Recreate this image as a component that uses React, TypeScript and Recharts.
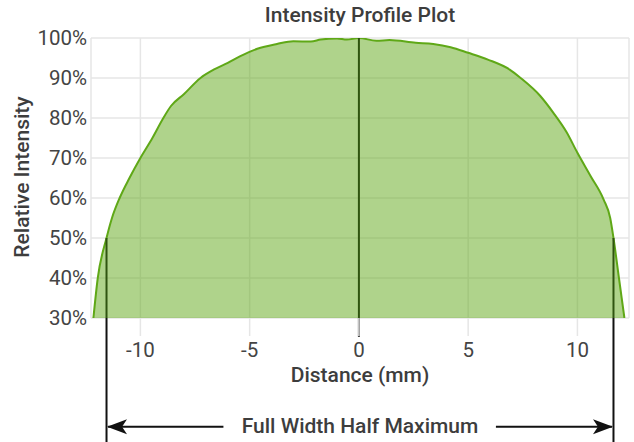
import { AreaChart, Area, XAxis, YAxis, CartesianGrid, ReferenceLine } from "recharts"

// ─── Data ─────────────────────────────────────────────────────────────────────

const distance = [
  -12.15, -11.95, -11.55, -11.3, -10.95, -10.5, -10.0, -9.45, -8.95, -8.6, -8.0, -7.25,
  -6.6, -6.0, -5.3, -4.65, -3.75, -3.0, -2.2, -1.75, -1.0, -0.55, 0, 0.8, 1.4, 2.6,
  3.4, 4.2, 5.0, 5.9, 6.9, 7.4, 8.3, 8.9, 9.5, 10.0, 10.6, 11.2, 11.5, 11.65, 11.9, 12.15,
]
const intensity = [
  30, 40, 50, 55, 60, 65, 70, 75, 80, 83, 86, 90,
  92.2, 93.8, 95.8, 97.3, 98.5, 99.2, 99.1, 99.6, 99.9, 99.6, 100, 99.3, 99.5, 98.8,
  98.5, 97.7, 96.3, 94.6, 92.1, 90, 85.5, 81.3, 76.5, 71.3, 65.5, 59.6, 55, 50, 40, 30,
]
const xTicks = [-10, -5, 0, 5, 10]
const yTicks = [30, 40, 50, 60, 70, 80, 90, 100]

const peakX = 0
const halfMax = 50
const fwhmLeft = -11.55
const fwhmRight = 11.65
// arrow row sits below the axis, in intensity units
const arrowY = 2.8
const arrowInner = [-6.2, 6.27]

const data = distance.map((d, i) => ({ d, v: intensity[i] }))

const GREEN = "#5fa817"
const DARK = "#2f5410"
const INK = "#111"
const TEXT = "#444"
const FONT = "Roboto, 'Noto Sans', sans-serif"

const labelStyle: React.CSSProperties = {
  position: "absolute",
  transform: "translate(-50%, -50%)",
  whiteSpace: "nowrap",
  fontFamily: FONT,
  fontWeight: 500,
  fontSize: 21,
  color: "#3d3d3d",
}

export default function App() {
  return (
    <div style={{ position: "absolute", left: 0, top: 0, width: 634, height: 442, background: "#fff", fontFamily: FONT }}>
      <AreaChart width={634} height={442} data={data} margin={{ top: 38, right: 5, left: 0, bottom: 0 }}>
        <defs>
          <marker id="arrowHead" viewBox="0 0 20 16" refX="19" refY="8" markerWidth="20" markerHeight="16" markerUnits="userSpaceOnUse" orient="auto">
            <path d="M0,0.5 L20,8 L0,15.5 L5,8 z" fill={INK} />
          </marker>
        </defs>
        <CartesianGrid stroke="#e6e6e6" strokeWidth={1.5} />
        <XAxis
          type="number"
          dataKey="d"
          domain={[-12.26, 12.36]}
          ticks={xTicks}
          allowDataOverflow
          axisLine={false}
          tickSize={18}
          tickMargin={6}
          tickLine={{ stroke: "#e6e6e6", strokeWidth: 1.5 }}
          tick={{ fontSize: 20.5, fill: TEXT, fontFamily: FONT }}
          height={124}
        />
        <YAxis
          type="number"
          domain={[30, 100]}
          ticks={yTicks}
          allowDataOverflow
          width={91}
          axisLine={false}
          tickLine={false}
          tickSize={0}
          tickMargin={4}
          tickFormatter={(v: number) => `${v}%`}
          tick={{ fontSize: 20.5, fill: TEXT, fontFamily: FONT }}
        />
        <Area
          type="monotone"
          dataKey="v"
          stroke={GREEN}
          strokeWidth={2}
          fill={GREEN}
          fillOpacity={0.5}
          isAnimationActive={false}
          dot={false}
          activeDot={false}
        />
        {/* centre line */}
        <ReferenceLine segment={[{ x: peakX, y: 100 }, { x: peakX, y: 30 }]} stroke={DARK} strokeWidth={2} ifOverflow="visible" />
        <ReferenceLine segment={[{ x: peakX, y: 30 }, { x: peakX, y: 25.3 }]} stroke={INK} strokeWidth={2} ifOverflow="visible" />
        {/* FWHM edges */}
        {[fwhmLeft, fwhmRight].map((x) => (
          <ReferenceLine key={`in${x}`} segment={[{ x, y: halfMax }, { x, y: 30 }]} stroke={DARK} strokeWidth={2} ifOverflow="visible" />
        ))}
        {[fwhmLeft, fwhmRight].map((x) => (
          <ReferenceLine key={`out${x}`} segment={[{ x, y: 30 }, { x, y: -2 }]} stroke={INK} strokeWidth={2} ifOverflow="visible" />
        ))}
        {/* arrows */}
        <ReferenceLine segment={[{ x: arrowInner[0], y: arrowY }, { x: fwhmLeft + 0.07, y: arrowY }]} stroke={INK} strokeWidth={2} ifOverflow="visible" markerEnd="url(#arrowHead)" />
        <ReferenceLine segment={[{ x: arrowInner[1], y: arrowY }, { x: fwhmRight - 0.07, y: arrowY }]} stroke={INK} strokeWidth={2} ifOverflow="visible" markerEnd="url(#arrowHead)" />
      </AreaChart>

      <div style={{ ...labelStyle, left: 360, top: 15 }}>Intensity Profile Plot</div>
      <div style={{ ...labelStyle, left: 22, top: 177, transform: "translate(-50%, -50%) rotate(-90deg)" }}>Relative Intensity</div>
      <div style={{ ...labelStyle, left: 360, top: 375 }}>Distance (mm)</div>
      <div style={{ ...labelStyle, left: 360, top: 426 }}>Full Width Half Maximum</div>
    </div>
  )
}
